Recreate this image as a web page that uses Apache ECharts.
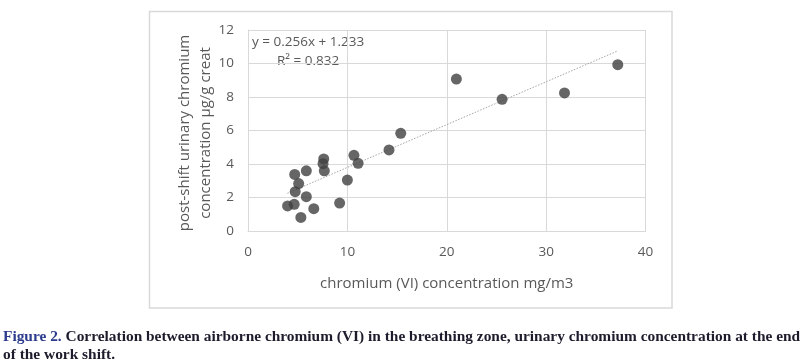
<!DOCTYPE html>
<html>
<head>
<meta charset="utf-8">
<script src="https://cdn.jsdelivr.net/npm/echarts@6/dist/echarts.min.js"></script>
<style>
html,body{margin:0;padding:0;background:#fff;}
#chart{width:805px;height:364px;}
</style>
</head>
<body>
<div id="chart"></div>
<script>
const chromiumAir = [3.98, 4.65, 4.70, 4.75, 5.10, 5.32, 5.87, 5.87, 6.62, 7.62, 7.55, 7.68, 9.22, 10.0, 10.66, 11.08, 14.19, 15.37, 20.97, 25.57, 31.85, 37.21];
const urinaryChromium = [1.50, 1.59, 3.38, 2.35, 2.83, 0.81, 3.59, 2.05, 1.33, 4.30, 4.02, 3.59, 1.67, 3.04, 4.52, 4.04, 4.84, 5.83, 9.07, 7.86, 8.24, 9.93];
const trendX = [3.96, 37.2];
const trendY = [2.25, 10.75];
const xTicks = [0, 10, 20, 30, 40];
const yTicks = [0, 2, 4, 6, 8, 10, 12];
const equationText = 'y = 0.256x + 1.233';
const r2Text = 'R² = 0.832';
const xTitle = 'chromium (VI) concentration mg/m3';
const yTitle1 = 'post-shift urinary chromium';
const yTitle2 = 'concentration µg/g creat';
const captionLabel = 'Figure 2.';
const captionLine1 = ' Correlation between airborne chromium (VI) in the breathing zone, urinary chromium concentration at the end';
const captionLine2 = 'of the work shift.';

const points = chromiumAir.map((x, i) => [x, urinaryChromium[i]]);
const trend = trendX.map((x, i) => [x, trendY[i]]);

const chart = echarts.init(document.getElementById('chart'), null, {renderer: 'canvas'});
const labelFont = 'Open Sans, Noto Sans, sans-serif';
const capFont = 'bold 15.4px Liberation Serif, serif';
chart.setOption({
  animation: false,
  backgroundColor: '#fff',
  grid: {left: 248, right: 159.5, top: 30, bottom: 133, show: false},
  xAxis: {
    type: 'value', min: xTicks[0], max: xTicks[xTicks.length - 1], interval: 10,
    axisLine: {show: true, lineStyle: {color: '#d9d9d9', width: 1}},
    axisTick: {show: false},
    splitLine: {show: true, lineStyle: {color: '#d9d9d9', width: 1}},
    axisLabel: {color: '#595959', fontSize: 13.5, fontFamily: labelFont, margin: 14},
    name: xTitle, nameLocation: 'middle', nameGap: 45,
    nameTextStyle: {color: '#595959', fontSize: 15, fontFamily: labelFont}
  },
  yAxis: {
    type: 'value', min: yTicks[0], max: yTicks[yTicks.length - 1], interval: 2,
    axisLine: {show: true, lineStyle: {color: '#d9d9d9', width: 1}},
    axisTick: {show: false},
    splitLine: {show: true, lineStyle: {color: '#d9d9d9', width: 1}},
    axisLabel: {color: '#595959', fontSize: 13.5, fontFamily: labelFont, margin: 14}
  },
  series: [
    {
      type: 'line', data: trend, symbol: 'none', silent: true,
      lineStyle: {color: '#a6a6a6', width: 1, type: [1.5, 1.5]}, z: 1
    },
    {
      type: 'scatter', data: points, symbol: 'circle', symbolSize: 11,
      itemStyle: {color: '#404040'}, z: 2
    }
  ],
  graphic: [
    {type: 'rect', shape: {x: 149.5, y: 11.5, width: 522.5, height: 296.5},
      style: {fill: 'none', stroke: '#d9d9d9', lineWidth: 1.5}, z: -1, silent: true},
    {type: 'text', left: 252, top: 35, style: {text: equationText, fill: '#595959', font: '13.5px ' + labelFont}},
    {type: 'text', left: 277, top: 54, style: {text: r2Text, fill: '#595959', font: '13.5px ' + labelFont}},
    {type: 'text', x: 185, y: 133, rotation: Math.PI / 2,
      style: {text: yTitle1, fill: '#595959', font: '15px ' + labelFont, align: 'center', verticalAlign: 'middle'}},
    {type: 'text', x: 206, y: 133, rotation: Math.PI / 2,
      style: {text: yTitle2, fill: '#595959', font: '15px ' + labelFont, align: 'center', verticalAlign: 'middle'}},
    {type: 'text', left: 3, top: 330, style: {
      text: '{a|' + captionLabel + '}{b|' + captionLine1 + '}',
      rich: {
        a: {fill: '#2b3a8c', font: capFont},
        b: {fill: '#1c1c2c', font: capFont}
      }}},
    {type: 'text', left: 3, top: 348, style: {text: captionLine2, fill: '#1c1c2c', font: capFont}}
  ]
});
</script>
</body>
</html>
